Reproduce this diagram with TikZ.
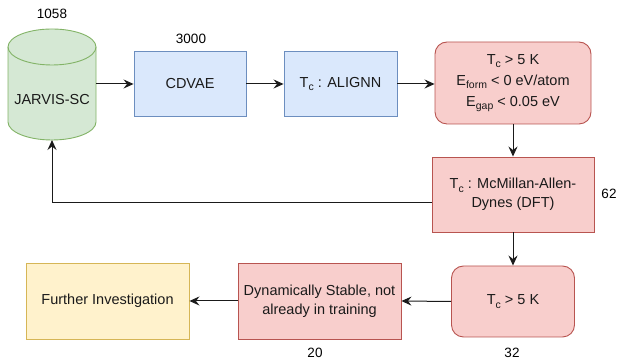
\documentclass[tikz,border=0pt]{standalone}
\usepackage{fontspec}
\setmainfont{Liberation Sans}
\usetikzlibrary{arrows.meta}
\definecolor{gfill}{HTML}{D5E8D4}\definecolor{gdraw}{HTML}{82B366}
\definecolor{bfill}{HTML}{DAE8FC}\definecolor{bdraw}{HTML}{6C8EBF}
\definecolor{rfill}{HTML}{F8CECC}\definecolor{rdraw}{HTML}{B85450}
\definecolor{yfill}{HTML}{FFF2CC}\definecolor{ydraw}{HTML}{D6B656}
\definecolor{txt}{HTML}{1A1A1A}
\newcommand\subtx[1]{\raisebox{-0.45ex}{\fontsize{10.5}{10.5}\selectfont #1}}
\tikzset{
  base/.style={font=\fontsize{14.5}{19}\selectfont, text=txt, align=center, line width=0.9pt, inner sep=1pt},
  bluebox/.style={base, draw=bdraw, fill=bfill},
  redbox/.style={base, draw=rdraw, fill=rfill},
  redround/.style={base, draw=rdraw, fill=rfill, rounded corners=12pt},
  yellowbox/.style={base, draw=ydraw, fill=yfill},
  numlabel/.style={font=\fontsize{13.5}{14}\selectfont, text=black},
  conn/.style={line width=1pt, draw=txt, -{Stealth[length=10pt,width=9pt,inset=3.5pt]}},
}
\begin{document}
\begin{tikzpicture}[x=1pt,y=1pt]
\useasboundingbox (0,0) rectangle (619,363);
% cylinder
\path[draw=gdraw, fill=gfill, line width=0.9pt] (8,316) -- (8,241)
  arc[start angle=180, end angle=360, x radius=44pt, y radius=18pt] -- (96,316)
  arc[start angle=0, end angle=180, x radius=44pt, y radius=18pt] -- cycle;
\draw[draw=gdraw, line width=0.9pt] (8,316) arc[start angle=180, end angle=360, x radius=44pt, y radius=18pt];
\node[base, draw=none, fill=none, minimum width=88pt, minimum height=10pt] (jarvis) at (52,263) {JARVIS-SC};
\coordinate (jbot) at (52,223);
\coordinate (jright) at (96,279);
\node[numlabel] (n1058) at (52,349) {1058};

\node[bluebox, minimum width=112pt, minimum height=65pt] (cdvae) at (190,279) {CDVAE};
\node[numlabel] (n3000) at (191,324) {3000};
\node[bluebox, minimum width=113pt, minimum height=65pt] (alignn) at (340.5,279) {T\subtx{c} : ALIGNN};
\node[redround, minimum width=156pt, minimum height=82pt, font=\fontsize{14.5}{21}\selectfont] (filt) at (513,280)
  {T\subtx{c} > 5 K\\E\subtx{form} < 0 eV/atom\\E\subtx{gap} < 0.05 eV};
\node[redbox, minimum width=162pt, minimum height=75pt] (mcm) at (513,168.5) {T\subtx{c} : McMillan-Allen-\\Dynes (DFT)};
\node[numlabel] (n62) at (609,169) {62};
\node[redround, minimum width=123pt, minimum height=71pt] (tc) at (513,61.5) {T\subtx{c} > 5 K};
\node[numlabel] (n32) at (512,10) {32};
\node[redbox, minimum width=163pt, minimum height=76pt] (dyn) at (319.5,62) {Dynamically Stable, not\\already in training};
\node[numlabel] (n20) at (315,10) {20};
\node[yellowbox, minimum width=163pt, minimum height=76pt] (fur) at (107.5,62) {Further Investigation};

\draw[conn] (jright) -- (cdvae.west);
\draw[conn] (cdvae.east) -- (alignn.west);
\draw[conn] (alignn.east) -- (alignn.east -| filt.west);
\draw[conn] (filt.south) -- (mcm.north);
\coordinate (fb) at (52,160);
\draw[conn] (mcm.west |- fb) -- (fb) -- (jbot);
\draw[conn] (mcm.south) -- (tc.north);
\draw[conn] (tc.west) -- (dyn.east);
\draw[conn] (dyn.west) -- (fur.east);
\end{tikzpicture}
\end{document}
